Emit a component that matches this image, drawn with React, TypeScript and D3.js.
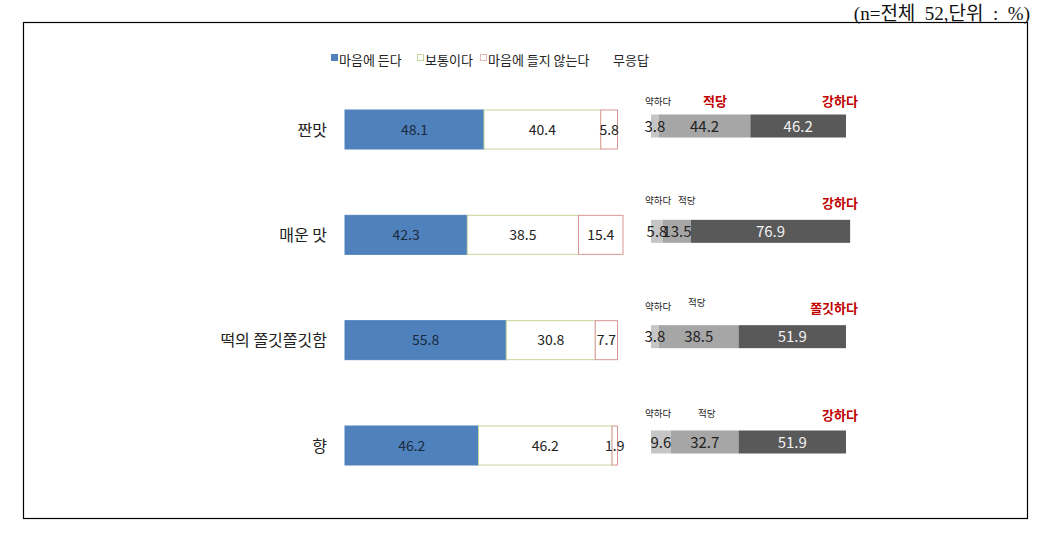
import * as d3 from "d3";
import React, { RefObject, useEffect, useRef } from "react";

// 만족도 (왼쪽 막대)
const categories = ["짠맛", "매운 맛", "떡의 쫄깃쫄깃함", "향"];
const likeVals = [48.1, 42.3, 55.8, 46.2];
const normalVals = [40.4, 38.5, 30.8, 46.2];
const dislikeVals = [5.8, 15.4, 7.7, 1.9];
const legendLabels = ["마음에 든다", "보통이다", "마음에 들지 않는다", "무응답"];

// 강도 (오른쪽 막대)
const weakVals = [3.8, 5.8, 3.8, 9.6];
const fitVals = [44.2, 13.5, 38.5, 32.7];
const strongVals = [46.2, 76.9, 51.9, 51.9];
const weakLabels = ["약하다", "약하다", "약하다", "약하다"];
const fitLabels = ["적당", "적당", "적당", "적당"];
const strongLabels = ["강하다", "강하다", "쫄깃하다", "강하다"];

const W = 1061;
const H = 536;
const KR = "'Noto Sans CJK KR', 'Noto Sans', sans-serif";

const App = () => {
  const d3Ref: RefObject<HTMLDivElement> = useRef(null);

  useEffect(() => {
    const root = d3.select(d3Ref.current);
    root.selectAll("*").remove();
    const svg = root
      .append("svg")
      .attr("width", W)
      .attr("height", H)
      .style("position", "absolute")
      .style("left", 0)
      .style("top", 0)
      .style("font-family", KR);

    svg.append("rect").attr("width", W).attr("height", H).attr("fill", "#fff");

    // 상단 주석
    svg.append("text")
      .attr("x", 1030)
      .attr("y", 20)
      .attr("text-anchor", "end")
      .attr("font-family", "'Liberation Serif', 'Noto Sans CJK KR', serif")
      .attr("font-size", 19)
      .attr("fill", "#111")
      .style("white-space", "pre")
      .text("(n=전체  52,단위  :  %)");

    // 외곽 테두리
    svg.append("rect")
      .attr("x", 23.5)
      .attr("y", 22.5)
      .attr("width", 1004)
      .attr("height", 496)
      .attr("fill", "none")
      .attr("stroke", "#000")
      .attr("stroke-width", 1.2);

    // 범례
    const legendX = [331, 417, 480, 613];
    const legendFill = ["#4f81bd", "#fff", "#fff", "none"];
    const legendStroke = ["#4f81bd", "#c4d79b", "#e6b9b8", "none"];
    legendLabels.forEach((lab, i) => {
      if (legendFill[i] !== "none") {
        svg.append("rect")
          .attr("x", legendX[i] + 0.5)
          .attr("y", 54.5)
          .attr("width", 6)
          .attr("height", 6)
          .attr("fill", legendFill[i])
          .attr("stroke", legendStroke[i]);
      }
      svg.append("text")
        .attr("x", legendFill[i] === "none" ? legendX[i] : legendX[i] + 8)
        .attr("y", 65)
        .attr("font-size", 13)
        .attr("fill", "#222")
        .text(lab);
    });

    const yC = d3.scalePoint<string>().domain(categories).range([129.5, 445.5]);
    const xL = d3.scaleLinear().domain([0, 100]).range([345, 634]);
    const xR = d3.scaleLinear().domain([0, 100]).range([651, 858]);
    const barH = 39;
    const rBarH = 23;

    // 항목 이름
    svg.selectAll("text.cat")
      .data(categories)
      .enter()
      .append("text")
      .attr("class", "cat")
      .attr("x", 327)
      .attr("y", (d) => (yC(d) as number) + 6)
      .attr("text-anchor", "end")
      .attr("font-size", 16)
      .attr("fill", "#222")
      .text((d) => d);

    const labels: { x: number; y: number; t: string; size: number; fill: string }[] = [];

    // 왼쪽 누적 막대
    const leftSeries = [
      { vals: likeVals, fill: "#4f81bd", stroke: "#4f81bd", text: "#1a2a40" },
      { vals: normalVals, fill: "#fff", stroke: "#c4d79b", text: "#222" },
      { vals: dislikeVals, fill: "#fff", stroke: "#d99694", text: "#222" },
    ];
    categories.forEach((c, i) => {
      let acc = 0;
      const top = (yC(c) as number) - barH / 2;
      leftSeries.forEach((s) => {
        const v = s.vals[i];
        const x0 = xL(acc);
        const x1 = xL(acc + v);
        svg.append("rect")
          .attr("x", x0)
          .attr("y", top)
          .attr("width", x1 - x0)
          .attr("height", barH)
          .attr("fill", s.fill)
          .attr("stroke", s.stroke)
          .attr("stroke-width", 1);
        labels.push({ x: (x0 + x1) / 2, y: top + barH / 2 + 5, t: v.toFixed(1), size: 14, fill: s.text });
        acc += v;
      });
    });

    // 오른쪽 누적 막대
    const rightSeries = [
      { vals: weakVals, fill: "#c6c6c6", text: "#222" },
      { vals: fitVals, fill: "#a6a6a6", text: "#222" },
      { vals: strongVals, fill: "#595959", text: "#f2f2f2" },
    ];
    const weakLabelDy = [-21, -27, -27, -25];
    const fitLabelX = [703, 678, 688, 698];
    const fitLabelDy = [-20, -27, -31, -25];
    const strongLabelDy = [-20, -23, -24, -22];
    categories.forEach((c, i) => {
      let acc = 0;
      const cy = (yC(c) as number) - 3.5;
      const top = cy - rBarH / 2;
      rightSeries.forEach((s) => {
        const v = s.vals[i];
        const x0 = xR(acc);
        const x1 = xR(acc + v);
        svg.append("rect")
          .attr("x", x0)
          .attr("y", top)
          .attr("width", x1 - x0)
          .attr("height", rBarH)
          .attr("fill", s.fill);
        labels.push({ x: (x0 + x1) / 2, y: cy + 5.5, t: v.toFixed(1), size: 15, fill: s.text });
        acc += v;
      });
      // 라벨
      svg.append("text")
        .attr("x", 645)
        .attr("y", cy + weakLabelDy[i])
        .attr("font-size", 9.5)
        .attr("fill", "#222")
        .text(weakLabels[i]);
      const red = i === 0;
      svg.append("text")
        .attr("x", fitLabelX[i])
        .attr("y", cy + fitLabelDy[i])
        .attr("font-size", red ? 13 : 9.5)
        .attr("font-weight", red ? "bold" : "normal")
        .attr("fill", red ? "#c00000" : "#222")
        .text(fitLabels[i]);
      svg.append("text")
        .attr("x", 858)
        .attr("y", cy + strongLabelDy[i])
        .attr("text-anchor", "end")
        .attr("font-size", 13)
        .attr("font-weight", "bold")
        .attr("fill", "#c00000")
        .text(strongLabels[i]);
    });

    // 값 라벨은 막대 위에
    svg.selectAll("text.val")
      .data(labels)
      .enter()
      .append("text")
      .attr("class", "val")
      .attr("x", (d) => d.x)
      .attr("y", (d) => d.y)
      .attr("text-anchor", "middle")
      .attr("font-size", (d) => d.size)
      .attr("fill", (d) => d.fill)
      .text((d) => d.t);
  }, [d3Ref]);

  return <div ref={d3Ref} />;
};

export default App;
